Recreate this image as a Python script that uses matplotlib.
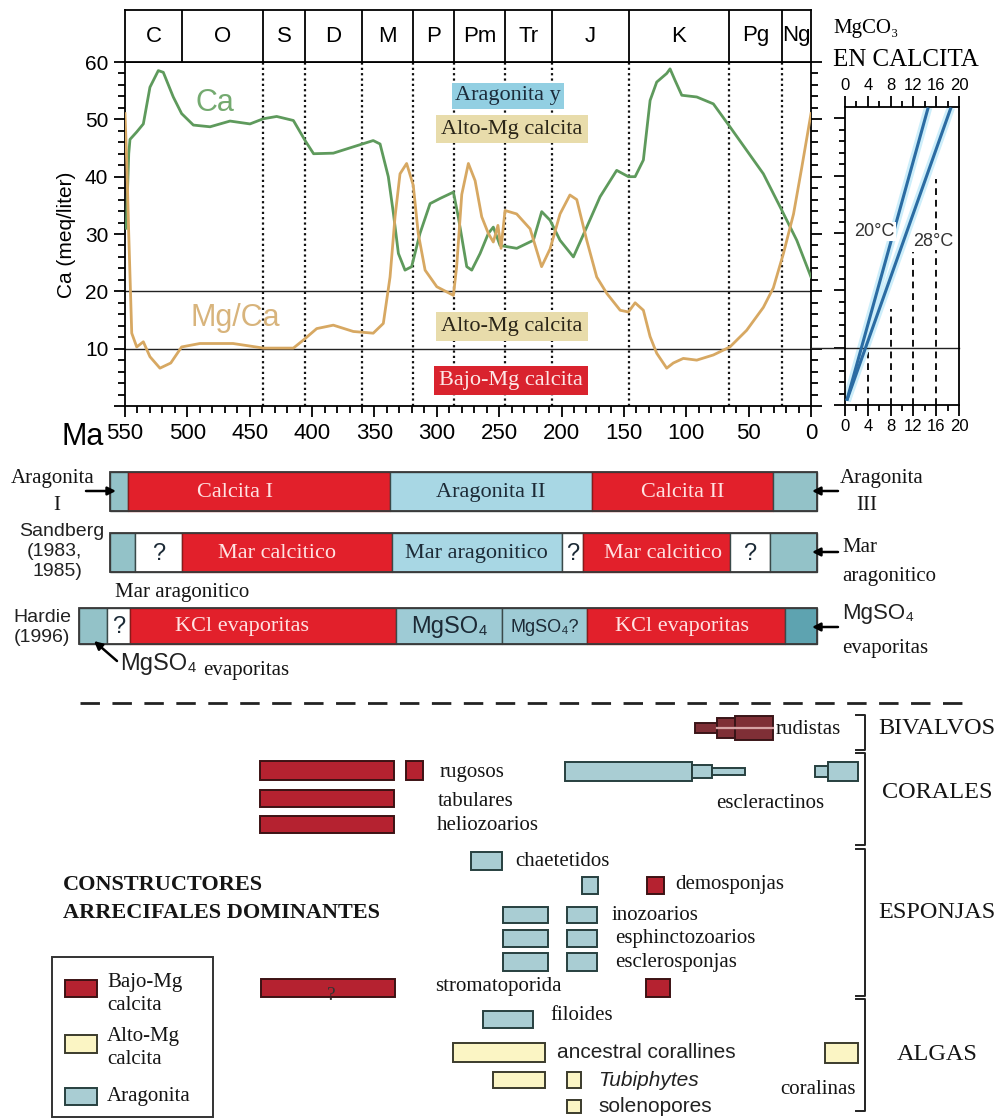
import matplotlib
matplotlib.use("Agg")
import matplotlib.pyplot as plt
from matplotlib.patches import Rectangle
from matplotlib.ticker import MultipleLocator

W, H = 1005, 1118
PX_PER_MA = 686 / 550
SERIF = ["Liberation Serif", "DejaVu Serif"]
SANS = ["Liberation Sans", "DejaVu Sans"]

# ---------------------------------------------------------------- data
PERIOD_EDGES = [550, 504, 439, 406, 360, 319, 286, 245, 208, 146, 66, 23, 0]
PERIOD_NAMES = ["C", "O", "S", "D", "M", "P", "Pm", "Tr", "J", "K", "Pg", "Ng"]

CA_AGE = [549, 547, 546, 540.6, 535.3, 530, 523.3, 519.3, 511.3, 504.6, 495.2,
          481.8, 465.8, 449.8, 439.1, 428.4, 415, 405.6, 398.8, 383, 367, 351,
          345.5, 338.9, 334.8, 330.8, 325.5, 320.2, 313.5, 305.4, 297.4, 286.7,
          282.8, 276, 272, 265.3, 258.7, 254.7, 249.3, 235.9, 222.6, 215.9,
          209.2, 201.2, 190.5, 179.8, 169.1, 155.8, 146.4, 141, 134.4, 129,
          123.7, 115.7, 113, 109, 103.6, 91.6, 78.3, 65, 51.6, 38.2, 24.7,
          11.4, 0]
CA_MEQ = [31, 44, 46.5, 47.8, 49.2, 55.6, 58.5, 58.2, 53.9, 51, 49, 48.7, 49.7,
          49.2, 50.1, 50.5, 49.8, 46.3, 44, 44.1, 45.2, 46.3, 45.7, 40, 33.6,
          26.6, 23.7, 24.3, 30.1, 35.3, 36.2, 37.3, 33, 24.3, 23.7, 26.6, 30.1,
          31.2, 28, 27.5, 28.9, 33.9, 32.4, 28.9, 26, 31.2, 36.5, 41.1, 40, 40,
          42.9, 53.3, 56.5, 58, 58.8, 56.8, 54.2, 53.9, 52.7, 48.7, 44.6, 40.5,
          34.7, 28.9, 22.5]

MGCA_AGE = [550, 548.5, 547, 544.6, 540.6, 535.3, 530, 522, 513.3, 504.6, 490,
            463.4, 439, 415, 407, 396.3, 383, 367, 351, 342.9, 337.5, 333.5,
            329.5, 324.2, 318.9, 314.9, 309.4, 300, 286.7, 284.1, 280, 274.7,
            269.3, 264, 258.7, 254.7, 251, 248.5, 245.3, 236, 225.2, 216, 209.2,
            201.2, 193.3, 187.8, 179.8, 171.8, 163.6, 153, 146.4, 141, 134.4,
            129, 123.7, 115.7, 110.4, 102.4, 91.6, 78.3, 65, 51.6, 38.2, 30.2,
            22.1, 14, 7.4, 0]
MGCA_VAL = [51, 42, 30, 12.7, 10.3, 11.2, 8.6, 6.6, 7.5, 10.3, 10.9, 10.9, 10.1,
            10.1, 11.5, 13.5, 14.1, 13, 12.7, 14.4, 22.5, 33, 40.5, 42.3, 38.5,
            30.1, 23.7, 20.8, 19.3, 24.3, 36.9, 42.3, 39.3, 33, 30.1, 28.6, 31.5,
            27.5, 34.1, 33.5, 30.9, 24.3, 27.4, 33.5, 36.8, 36, 28.9, 22.5, 19.6,
            16.7, 16.4, 18, 16.7, 12.1, 9.2, 6.6, 7.5, 8.3, 8, 8.9, 10.3, 13.2,
            17.2, 20.6, 26.6, 33.5, 41.6, 51]

MG_THRESHOLDS = [20, 10]

# MgCO3 (mol %) in calcite versus seawater Mg/Ca
CALCITE_TEMPS = ["20°C", "28°C"]
CALCITE_MGCO3 = [(0.3, 14.6), (0.3, 18.6)]
CALCITE_MGCA = [(0.75, 51.9), (0.75, 51.9)]
GUIDE_MGCO3 = [4, 8, 12, 16]
GUIDE_MGCA = [9.2, 16.7, 26.6, 39.4]

# sea chemistry intervals (Ma)
STANLEY_EDGES = [562, 547.6, 337.5, 175.5, 30.3, -4.9]
STANLEY_KIND = ["arag_end", "calc", "arag", "calc", "arag_end"]
STANLEY_TEXT = ["", "Calcita I", "Aragonita II", "Calcita II", ""]

SANDBERG_EDGES = [562, 542, 504.3, 336.2, 199.6, 182.7, 64.8, 32.8, -4.9]
SANDBERG_KIND = ["arag_end", "unknown", "calc", "arag", "unknown", "calc",
                 "unknown", "arag_end"]
SANDBERG_TEXT = ["", "?", "Mar calcitico", "Mar aragonitico", "?",
                 "Mar calcitico", "?", ""]

HARDIE_EDGES = [586.9, 564.4, 546, 332.7, 247.7, 179.5, 20.7, -4.9]
HARDIE_KIND = ["arag_end", "unknown", "calc", "arag_mid", "arag_mid", "calc",
               "arag_deep"]
HARDIE_TEXT = ["", "?", "KCl evaporitas", "MgSO₄", "MgSO₄?", "KCl evaporitas", ""]

# dominant reef builders: one entry per bar
REEF_TAXON = ["rudistas", "rudistas", "rudistas",
              "rugosos", "rugosos", "tabulares", "heliozoarios",
              "escleractinos", "escleractinos", "escleractinos",
              "escleractinos", "escleractinos",
              "chaetetidos", "demosponjas", "demosponjas",
              "inozoarios", "inozoarios", "esphinctozoarios", "esphinctozoarios",
              "esclerosponjas", "esclerosponjas",
              "stromatoporida", "stromatoporida", "filoides",
              "ancestral corallines", "coralinas", "Tubiphytes", "Tubiphytes",
              "solenopores"]
REEF_OLDEST = [93.0, 75.4, 60.9,
               441.8, 324.7, 441.8, 441.8,
               197.2, 95.4, 79.4, -3.2, -13.6,
               272.6, 183.6, 131.5,
               246.9, 195.6, 246.9, 195.6,
               246.9, 195.6,
               441.0, 132.3, 263.0,
               287.0, -11.2, 255.0, 195.6,
               195.6]
REEF_YOUNGEST = [75.4, 60.9, 30.5,
                 334.3, 311.1, 334.3, 334.3,
                 95.4, 79.4, 52.9, -13.6, -37.7,
                 247.7, 170.8, 117.9,
                 210.9, 171.6, 210.9, 171.6,
                 210.9, 171.6,
                 333.5, 113.1, 222.9,
                 213.3, -37.7, 213.3, 184.8,
                 184.8]
REEF_MINERAL = ["rudist", "rudist", "rudist",
                "low", "low", "low", "low",
                "arag", "arag", "arag", "arag", "arag",
                "arag", "arag", "low",
                "arag", "arag", "arag", "arag",
                "arag", "arag",
                "low", "low", "arag",
                "high", "high", "high", "high",
                "high"]
REEF_GROUPS = ["BIVALVOS", "CORALES", "ESPONJAS", "ALGAS"]

LEGEND_LABELS = ["Bajo-Mg\ncalcita", "Alto-Mg\ncalcita", "Aragonita"]

# ---------------------------------------------------------------- styles
MINERAL_FACE = {"low": "#b52230", "high": "#fbf5c4", "arag": "#a9cdd3",
                "rudist": "#7f2f36"}
MINERAL_EDGE = {"low": "#3c1214", "high": "#3b3b2c", "arag": "#27403f",
                "rudist": "#3a1518"}
SEA_FACE = {"calc": "#e2202b", "arag": "#a8d7e4", "arag_mid": "#9ecbd5",
            "arag_end": "#93c2c8", "arag_deep": "#5ea3b0", "unknown": "white"}
GREEN = "#5e9a5c"
TAN = "#d7a862"


def fig_rect(x0, y0, x1, y1):
    return [x0 / W, 1 - y1 / H, (x1 - x0) / W, (y1 - y0) / H]


fig = plt.figure(figsize=(W / 100, H / 100), dpi=100)

# ---------------------------------------------------------------- main Ca / Mg-Ca panel
ax = fig.add_axes(fig_rect(125, 62, 811, 406))
ax.set_xlim(550, 0)
ax.set_ylim(0, 60)
ax.plot(CA_AGE, CA_MEQ, color=GREEN, lw=2.0, solid_joinstyle="round", zorder=4)
ax.plot(MGCA_AGE, MGCA_VAL, color=TAN, lw=2.0, solid_joinstyle="round", zorder=4)
for level in MG_THRESHOLDS:
    ax.axhline(level, color="#222222", lw=1.0, zorder=2)
for edge in PERIOD_EDGES[2:-1]:
    ax.axvline(edge, color="#111111", lw=1.6, ls=(0, (1, 1.4)), zorder=1)

ax.set_xticks(range(0, 551, 50))
ax.set_xticklabels([str(v) for v in range(0, 551, 50)], fontfamily=SANS, fontsize=16)
ax.xaxis.set_minor_locator(MultipleLocator(10))
ax.set_yticks(range(0, 61, 10))
ax.set_yticklabels([""] + [str(v) for v in range(10, 61, 10)], fontfamily=SANS,
                   fontsize=15)
ax.yaxis.set_minor_locator(MultipleLocator(2))
ax.tick_params(which="both", direction="out", right=True, width=1.3)
ax.tick_params(which="major", length=8, pad=4)
ax.tick_params(which="minor", length=5)
for sp in ax.spines.values():
    sp.set_linewidth(1.3)

ax.text(477.8, 52.8, "Ca", color="#74aa70", fontsize=22, fontfamily=SANS,
        ha="center", va="center")
ax.text(461.8, 15.3, "Mg/Ca", color="#d8b47c", fontsize=22, fontfamily=SANS,
        ha="center", va="center")

box_kw = dict(ha="center", va="center", fontfamily=SERIF, fontsize=16, zorder=5)
ax.text(242.9, 54.1, "Aragonita y", color="#1b2b3a",
        bbox=dict(fc="#92cfe2", ec="none", pad=2.5), **box_kw)
ax.text(239.7, 48.3, "Alto-Mg calcita", color="#2a2518",
        bbox=dict(fc="#e8dcab", ec="none", pad=3.5), **box_kw)
ax.text(239.7, 13.8, "Alto-Mg calcita", color="#2a2518",
        bbox=dict(fc="#e8dcab", ec="none", pad=3.5), **box_kw)
ax.text(240.5, 4.5, "Bajo-Mg calcita", color="#fde8e8",
        bbox=dict(fc="#d9232e", ec="none", pad=3.5), **box_kw)

fig.text(62 / W, 1 - 437 / H, "Ma", fontsize=22, fontfamily=SANS, va="center")
fig.text(67 / W, 1 - 235 / H, "Ca (meq/liter)", rotation=90, fontsize=15,
         fontfamily=SANS, ha="center", va="center")

# geological periods band
hdr = fig.add_axes(fig_rect(125, 10, 811, 62))
hdr.set_xlim(550, 0)
hdr.set_ylim(0, 1)
hdr.set_xticks([])
hdr.set_yticks([])
for sp in hdr.spines.values():
    sp.set_linewidth(1.3)
for edge in PERIOD_EDGES[1:-1]:
    hdr.axvline(edge, color="black", lw=1.3)
for name, a, b in zip(PERIOD_NAMES, PERIOD_EDGES[:-1], PERIOD_EDGES[1:]):
    hdr.text((a + b) / 2, 0.5, name, ha="center", va="center", fontsize=16,
             fontfamily=SANS)

# ---------------------------------------------------------------- MgCO3 in calcite panel
axr = fig.add_axes(fig_rect(845, 107, 959, 405))
axr.set_xlim(0, 20)
axr.set_ylim(0, 298 / (344 / 60))
for temp, xs, ys in zip(CALCITE_TEMPS, CALCITE_MGCO3, CALCITE_MGCA):
    axr.plot(xs, ys, color="#cdeefa", lw=6, solid_capstyle="butt", zorder=2)
for temp, xs, ys in zip(CALCITE_TEMPS, CALCITE_MGCO3, CALCITE_MGCA):
    axr.plot(xs, ys, color="#2b6ca3", lw=2.2, solid_capstyle="butt", zorder=3)
axr.vlines(GUIDE_MGCO3, 0, GUIDE_MGCA, color="#111111", lw=1.4,
           linestyles=[(0, (3.5, 2.5))], zorder=1)
axr.axhline(10, xmin=-0.3, xmax=1, color="#222222", lw=1.0, clip_on=False)
axr.text(5.2, 30.3, CALCITE_TEMPS[0], fontsize=13, fontfamily=SANS,
         ha="center", va="center", color="#333333",
         bbox=dict(fc="white", ec="none", pad=0.5), zorder=4)
axr.text(15.4, 28.6, CALCITE_TEMPS[1], fontsize=13, fontfamily=SANS,
         ha="center", va="center", color="#333333",
         bbox=dict(fc="white", ec="none", pad=0.5), zorder=4)
axr.set_xticks(range(0, 21, 4))
axr.xaxis.set_minor_locator(MultipleLocator(2))
axr.set_yticks(range(0, 51, 10))
axr.yaxis.set_minor_locator(MultipleLocator(2))
axr.tick_params(which="both", direction="out", top=True, labeltop=True,
                bottom=True, labelbottom=True, left=True, labelleft=False,
                width=1.3, labelsize=12, pad=2)
axr.tick_params(which="major", length=8)
axr.tick_params(which="minor", length=4)
for lab in axr.get_xticklabels(which="both"):
    lab.set_fontfamily(SANS)
for sp in axr.spines.values():
    sp.set_linewidth(1.3)

fig.text(833 / W, 1 - 28 / H, "MgCO₃", fontfamily=SERIF, fontsize=15, va="center")
fig.text(833 / W, 1 - 60 / H, "EN CALCITA", fontfamily=SERIF, fontsize=18,
         va="center")

# ---------------------------------------------------------------- lower panels (age on x, rows in px)
ov = fig.add_axes([0, 0, 1, 1])
ov.set_xlim(550 + 125 / PX_PER_MA, 550 - 880 / PX_PER_MA)
ov.set_ylim(H, 0)
ov.axis("off")


def ma(px):
    return 550 - (px - 125) / PX_PER_MA


def sea_bar(edges, kinds, texts, top, bottom, nudges):
    mid = (top + bottom) / 2
    for i, (a, b, kind, txt) in enumerate(zip(edges[:-1], edges[1:], kinds, texts)):
        ov.barh(mid, a - b, left=b, height=bottom - top, color=SEA_FACE[kind],
                edgecolor="#8a1a1a" if kind == "calc" else "#3a4a4a", lw=1.0,
                zorder=2)
        if txt:
            is_calc = kind == "calc"
            ov.text((a + b) / 2 + nudges.get(i, 0), mid + 1, txt,
                    ha="center", va="center", zorder=3,
                    color="#ffe2e2" if is_calc else "#1c2a36",
                    fontfamily=SANS if ("MgSO" in txt or txt == "?") else SERIF,
                    fontsize=(13 if txt == "MgSO₄?" else
                              17 if txt == "?" else
                              17 if "MgSO" in txt else 16))
    ov.barh(mid, edges[0] - edges[-1], left=edges[-1], height=bottom - top,
            fill=False, edgecolor="#3a3a3a", lw=1.3, zorder=3)


sea_bar(STANLEY_EDGES, STANLEY_KIND, STANLEY_TEXT, 472, 511, {1: 19})
sea_bar(SANDBERG_EDGES, SANDBERG_KIND, SANDBERG_TEXT, 533, 572, {2: 8, 5: -5})
sea_bar(HARDIE_EDGES, HARDIE_KIND, HARDIE_TEXT, 608, 644, {2: 17, 5: 3})

serif_txt = dict(fontfamily=SERIF, fontsize=15, color="#151515")
sans_txt = dict(fontfamily=SANS, fontsize=14, color="#222222")
arrow = dict(arrowstyle="-|>", color="black", lw=1.8, mutation_scale=12,
             shrinkA=0, shrinkB=0)

ov.text(ma(53), 478, "Aragonita", ha="center", va="center", **serif_txt)
ov.text(ma(57), 505, "I", ha="center", va="center", **serif_txt)
ov.annotate("", xy=(ma(116), 491), xytext=(ma(86), 491), arrowprops=arrow)
ov.text(ma(882), 478, "Aragonita", ha="center", va="center", **serif_txt)
ov.text(ma(867), 505, "III", ha="center", va="center", **serif_txt)
for y in (491, 552, 627):
    ov.annotate("", xy=(ma(812), y), xytext=(ma(838), y), arrowprops=arrow)
ov.text(ma(842), 548, "Mar", ha="left", va="center", **serif_txt)
ov.text(ma(842), 576, "aragonitico", ha="left", va="center", **serif_txt)
ov.text(ma(842), 614, "MgSO₄", ha="left", va="center", fontfamily=SANS,
        fontsize=16, color="#222222")
ov.text(ma(842), 648, "evaporitas", ha="left", va="center", **serif_txt)

ov.text(ma(62), 532, "Sandberg", ha="center", va="center", **sans_txt)
ov.text(ma(82), 552, "(1983,", ha="right", va="center", **sans_txt)
ov.text(ma(82), 571, "1985)", ha="right", va="center", **sans_txt)
ov.text(ma(115), 592, "Mar aragonitico", ha="left", va="center", **serif_txt)
ov.text(ma(42), 617, "Hardie", ha="center", va="center", **sans_txt)
ov.text(ma(42), 637, "(1996)", ha="center", va="center", **sans_txt)
ov.annotate("", xy=(ma(94), 641), xytext=(ma(117), 661), arrowprops=arrow)
ov.text(ma(120), 664, "MgSO₄", ha="left", va="center", fontfamily=SANS,
        fontsize=17, color="#222222")
ov.text(ma(203), 671, "evaporitas", ha="left", va="center", **serif_txt)

ov.plot([ma(80), ma(970)], [703, 703], color="#222222", lw=2, ls=(0, (7, 4.5)))

# reef builder bars: row extents in px for each taxon
ROW_SPAN = {"rudistas": (716, 740), "rugosos": (761, 780),
            "escleractinos": (762, 781), "tabulares": (790, 807),
            "heliozoarios": (816, 833), "chaetetidos": (852, 870),
            "demosponjas": (877, 894), "inozoarios": (907, 923),
            "esphinctozoarios": (930, 947), "esclerosponjas": (953, 971),
            "stromatoporida": (979, 997), "filoides": (1011, 1028),
            "ancestral corallines": (1043, 1062), "coralinas": (1043, 1063),
            "Tubiphytes": (1072, 1088), "solenopores": (1100, 1113)}
THIN_BARS = {0: 0.42, 1: 0.83, 8: 0.7, 9: 0.37, 10: 0.55}

for i, (taxon, old, young, mineral) in enumerate(
        zip(REEF_TAXON, REEF_OLDEST, REEF_YOUNGEST, REEF_MINERAL)):
    top, bottom = ROW_SPAN[taxon]
    h = (bottom - top) * THIN_BARS.get(i, 1.0)
    ov.barh((top + bottom) / 2, old - young, left=young, height=h,
            color=MINERAL_FACE[mineral], edgecolor=MINERAL_EDGE[mineral],
            lw=1.4, zorder=2)
    if mineral == "rudist" and i > 0:
        ov.plot([old, young], [(top + bottom) / 2] * 2, color="#d7a3a5", lw=1.6,
                zorder=3)

reef_labels = [("rugosos", 440, 773, "left"), ("tabulares", 438, 801, "left"),
               ("heliozoarios", 437, 826, "left"),
               ("escleractinos", 770, 803, "center"),
               ("rudistas", 776, 729, "left"), ("chaetetidos", 515, 861, "left"),
               ("demosponjas", 675, 884, "left"), ("inozoarios", 612, 916, "left"),
               ("esphinctozoarios", 615, 938, "left"),
               ("esclerosponjas", 615, 962, "left"),
               ("stromatoporida", 435, 987, "left"), ("filoides", 550, 1016, "left"),
               ("coralinas", 818, 1090, "center")]
for name, x, y, ha in reef_labels:
    ov.text(ma(x), y, name, ha=ha, va="center", **serif_txt)
ov.text(ma(557), 1052, "ancestral corallines", ha="left", va="center",
        fontfamily=SANS, fontsize=15, color="#222222")
ov.text(ma(598), 1081, "Tubiphytes", ha="left", va="center", fontfamily=SANS,
        fontsize=15, style="italic", color="#222222")
ov.text(ma(598), 1107, "solenopores", ha="left", va="center", fontfamily=SANS,
        fontsize=15, color="#222222")
ov.text(ma(331), 996, "?", ha="center", va="center", fontfamily=SERIF,
        fontsize=14, color="#333333", zorder=4)

# group brackets
for name, (top, bottom), ty in zip(REEF_GROUPS,
                                   [(715, 750), (753, 845), (849, 996), (999, 1111)],
                                   [728, 793, 913, 1055]):
    ov.plot([ma(856), ma(865), ma(865), ma(856)], [top, top, bottom, bottom],
            color="#222222", lw=1.4)
    ov.text(ma(937), ty, name, ha="center", va="center", fontfamily=SERIF,
            fontsize=17.5, color="#151515")

ov.text(ma(63), 885, "CONSTRUCTORES", ha="left", va="center", fontfamily=SERIF,
        fontsize=16, fontweight="bold", color="#151515")
ov.text(ma(63), 913, "ARRECIFALES DOMINANTES", ha="left", va="center",
        fontfamily=SERIF, fontsize=16, fontweight="bold", color="#151515")

# legend
ov.add_patch(Rectangle((ma(213), 957), ma(52) - ma(213), 160, fill=False,
                       edgecolor="#333333", lw=1.4))
for label, mineral, (ptop, pbot), ty in zip(
        LEGEND_LABELS, ["low", "high", "arag"],
        [(980, 997), (1035, 1053), (1088, 1105)], [994, 1048, 1097]):
    ov.barh((ptop + pbot) / 2, ma(65) - ma(97), left=ma(97), height=pbot - ptop,
            color=MINERAL_FACE[mineral], edgecolor=MINERAL_EDGE[mineral], lw=1.4)
    ov.text(ma(107), ty, label, ha="left", va="center", fontfamily=SERIF,
            fontsize=15, color="#151515", linespacing=1.25)

fig.savefig("out.png", dpi=100)
